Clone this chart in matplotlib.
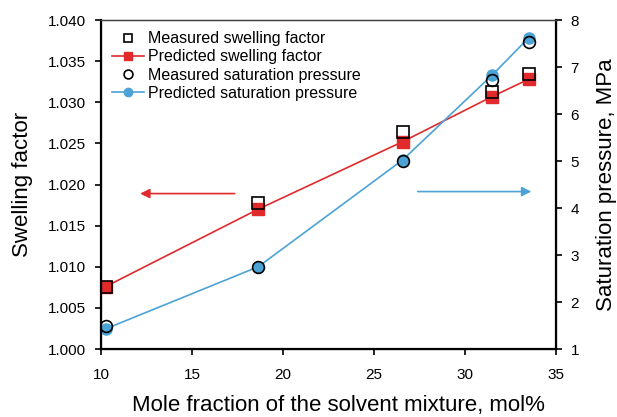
import matplotlib.pyplot as plt

plt.rcParams['font.family'] = ['Liberation Sans', 'DejaVu Sans']

# data
mole_frac = [10.26, 18.64, 26.57, 31.5, 33.5]
swell_meas = [1.0075, 1.0178, 1.0264, 1.0312, 1.0334]
swell_pred = [1.0076, 1.0170, 1.0252, 1.0307, 1.0328]
psat_meas = [1.50, 2.75, 5.00, 6.73, 7.54]
psat_pred = [1.43, 2.75, 5.02, 6.83, 7.62]

red = '#e02a2b'
blue = '#4ba3d6'

fig = plt.figure(figsize=(6.17, 4.17), dpi=100)
ax = fig.add_axes([0.1637, 0.163, 0.7373, 0.789])
ax2 = ax.twinx()

# predicted underneath, measured open markers on top
l2, = ax.plot(mole_frac, swell_pred, '-s', color=red, lw=1.2, ms=8,
              mfc=red, mec=red, label='Predicted swelling factor', zorder=2)
l1, = ax.plot(mole_frac, swell_meas, 's', ms=8.5, mfc='none', mec='black',
              mew=1.2, label='Measured swelling factor', zorder=3)
l4, = ax2.plot(mole_frac, psat_pred, '-o', color=blue, lw=1.2, ms=8,
               mfc=blue, mec=blue, label='Predicted saturation pressure', zorder=2)
l3, = ax2.plot(mole_frac, psat_meas, 'o', ms=8.5, mfc='none', mec='black',
               mew=1.2, label='Measured saturation pressure', zorder=3)

ax.set_xlim(10, 35)
ax.set_ylim(1.000, 1.040)
ax.set_xticks([10, 15, 20, 25, 30, 35])
ax.set_yticks([1.000, 1.005, 1.010, 1.015, 1.020, 1.025, 1.030, 1.035, 1.040])
ax.set_yticklabels([f'{v:.3f}' for v in ax.get_yticks()])
ax2.set_ylim(1, 8)
ax2.set_yticks(range(1, 9))

for a in (ax, ax2):
    a.tick_params(direction='out', length=4.5, width=1.2, labelsize=11, pad=6)
ax.tick_params(axis='x', pad=9)
for s in ['left', 'right', 'bottom']:
    ax2.spines[s].set_linewidth(1.6)
ax2.spines['top'].set_linewidth(1.0)
ax2.spines['top'].set_color('#444444')

ax.set_xlabel('Mole fraction of the solvent mixture, mol%', fontsize=16)
ax.xaxis.set_label_coords(0.523, -0.140)
ax.set_ylabel('Swelling factor', fontsize=16, labelpad=11)
ax2.set_ylabel('Saturation pressure, MPa', fontsize=16, labelpad=12)

# arrows pointing at each axis
ax.annotate('', xy=(12.0, 1.0189), xytext=(17.5, 1.0189),
            arrowprops=dict(arrowstyle='-|>', color=red, lw=1.2, mutation_scale=14))
ax2.annotate('', xy=(33.8, 4.35), xytext=(27.25, 4.35),
             arrowprops=dict(arrowstyle='-|>', color=blue, lw=1.2, mutation_scale=14))

ax2.legend(handles=[l1, l2, l3, l4], loc='upper left', frameon=False,
           fontsize=11.5, handlelength=2.0, borderaxespad=0.3,
           labelspacing=0.2, handletextpad=0.25, markerscale=0.75)

fig.savefig('out.png', dpi=100)
